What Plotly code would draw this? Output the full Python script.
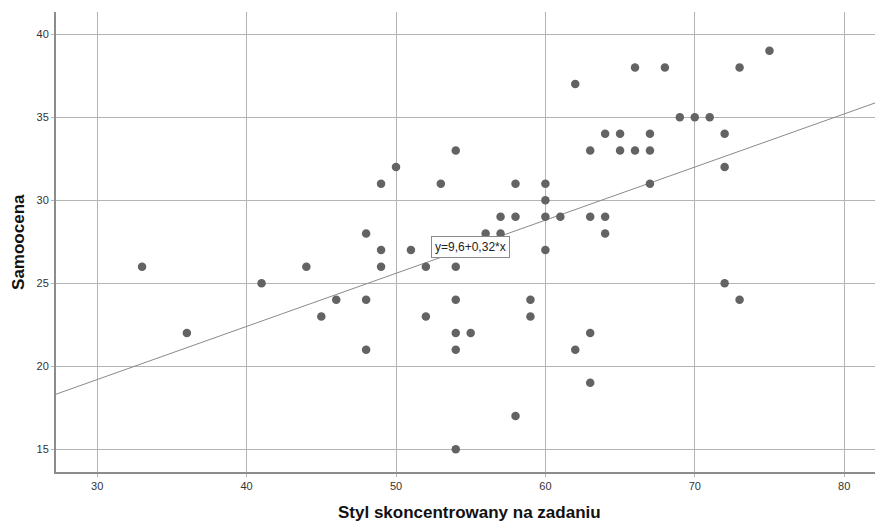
import plotly.graph_objects as go

styl = [33, 36, 41, 44, 45, 46, 48, 48, 48, 49, 49, 49, 50, 51, 52, 52, 53,
        54, 54, 54, 54, 54, 54, 55, 56, 57, 57, 58, 58, 58, 59, 59,
        60, 60, 60, 60, 61, 62, 62, 63, 63, 63, 63, 64, 64, 64, 65, 65,
        66, 66, 67, 67, 67, 68, 69, 70, 71, 72, 72, 72, 73, 73, 75]
samoocena = [26, 22, 25, 26, 23, 24, 28, 24, 21, 31, 27, 26, 32, 27, 26, 23, 31,
             33, 26, 24, 22, 21, 15, 22, 28, 29, 28, 31, 29, 17, 24, 23,
             31, 30, 29, 27, 29, 37, 21, 33, 29, 22, 19, 34, 29, 28, 34, 33,
             38, 33, 34, 33, 31, 38, 35, 35, 35, 34, 32, 25, 38, 24, 39]

intercept = 9.6
slope = 0.32
x_range = [27.24, 82.6]
y_range = [13.63, 41.34]
x_ticks = [30, 40, 50, 60, 70, 80]
y_ticks = [15, 20, 25, 30, 35, 40]
label_x = 55

FONT = "Liberation Sans, Arial"

fig = go.Figure()
fig.add_trace(go.Scatter(
    x=x_range, y=[intercept + slope * v for v in x_range],
    mode="lines", line=dict(color="#8a8a8a", width=1), hoverinfo="skip",
    showlegend=False))
fig.add_trace(go.Scatter(
    x=styl, y=samoocena, mode="markers",
    marker=dict(color="#636363", size=8.5), showlegend=False))

fig.add_annotation(
    x=label_x, y=intercept + slope * label_x, text="y=9,6+0,32*x",
    showarrow=False, bgcolor="white", bordercolor="#8a8a8a", borderwidth=1,
    borderpad=3, font=dict(family=FONT, size=12, color="#222"))

fig.add_annotation(
    xref="paper", yref="paper", x=0.5, y=-0.088, yanchor="middle",
    text="<b>Styl skoncentrowany na zadaniu</b>", showarrow=False,
    font=dict(family=FONT, size=17, color="#111"))
fig.add_annotation(
    xref="paper", yref="paper", x=-0.046, y=0.5, xanchor="center", yanchor="middle",
    textangle=-90, text="<b>Samoocena</b>", showarrow=False,
    font=dict(family=FONT, size=17, color="#111"))

axis_common = dict(
    showgrid=True, gridcolor="#b4b4b4", gridwidth=1, zeroline=False,
    showline=True, linecolor="#8c8c8c", linewidth=2, automargin=False,
    ticks="outside", ticklen=3, tickcolor="#b4b4b4",
    tickfont=dict(family=FONT, size=11, color="#333"))

fig.update_xaxes(range=x_range, tickvals=x_ticks, **axis_common)
fig.update_yaxes(range=y_range, tickvals=y_ticks, **axis_common)

# page body has an 8px default margin, so the figure is sized/offset to fit
fig.update_layout(
    width=875, height=521,
    margin=dict(l=48, r=0, t=4, b=57),
    plot_bgcolor="white", paper_bgcolor="white",
)

fig.write_html("out.html")
